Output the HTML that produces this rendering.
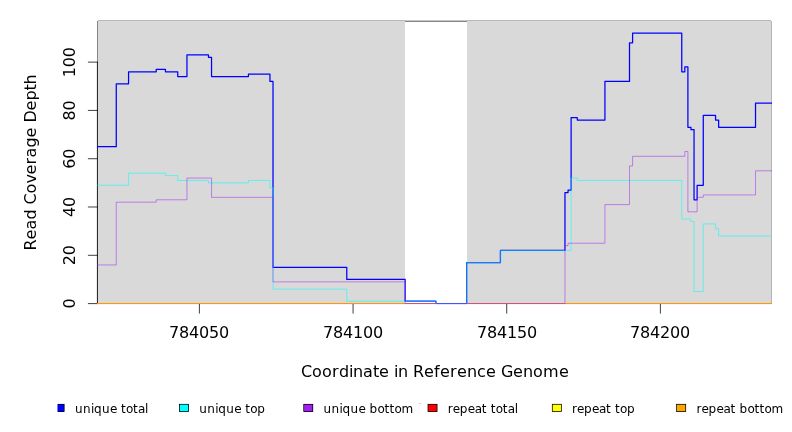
<!DOCTYPE html>
<html><head><meta charset="utf-8"><title>Read Coverage Depth</title>
<style>html,body{margin:0;padding:0;background:#fff;width:792px;height:432px;overflow:hidden}</style>
</head><body>
<svg width="792" height="432" viewBox="0 0 792 432" style="display:block;position:absolute;left:0;top:0">
<rect x="0" y="0" width="792" height="432" fill="#ffffff"/>
<g shape-rendering="crispEdges">
<rect x="98" y="21" width="307" height="283" fill="#d9d9d9"/>
<rect x="467" y="21" width="304" height="283" fill="#d9d9d9"/>
<rect x="98" y="20" width="307" height="1" fill="#b8b8b8"/>
<rect x="467" y="20" width="304" height="1" fill="#b8b8b8"/>
<rect x="405" y="20" width="62" height="1" fill="#c6c6c6"/>
<rect x="405" y="21" width="62" height="1" fill="#858585"/>
<rect x="97" y="21" width="1" height="283" fill="#858585"/>
<rect x="771" y="21" width="1" height="283" fill="#b5b5b5"/>
</g>
<rect x="97" y="304" width="675" height="1" fill="#fff0f2" shape-rendering="crispEdges"/>
<rect x="436" y="304" width="31" height="1" fill="#e8e2ff" shape-rendering="crispEdges"/>
<g stroke="#000" stroke-width="0.75" fill="none" stroke-linecap="round">
<path d="M97.40 303.60V62.13"/>
<path d="M97.40 303.60H88.30"/>
<path d="M97.40 255.31H88.30"/>
<path d="M97.40 207.01H88.30"/>
<path d="M97.40 158.72H88.30"/>
<path d="M97.40 110.42H88.30"/>
<path d="M97.40 62.13H88.30"/>
<path d="M199.40 303.60V313.20"/>
<path d="M353.07 303.60V313.20"/>
<path d="M506.73 303.60V313.20"/>
<path d="M660.39 303.60V313.20"/>
</g>
<clipPath id="c"><rect x="97" y="20" width="675" height="284"/></clipPath>
<g clip-path="url(#c)" fill="none" stroke-linejoin="round" stroke-linecap="round">
<path d="M97.40 303.60H771.60" stroke="#ff0000" stroke-width="0.75"/>
<path d="M97.40 303.60H771.60" stroke="#ffff00" stroke-width="0.75"/>
<rect x="97" y="303" width="675" height="1" fill="#ff9800" stroke="none" shape-rendering="crispEdges"/>
<path d="M97.40 146.64H116.27V83.86H128.56V71.79H156.22V69.37H165.44V71.79H177.74V76.62H186.96V54.89H208.47V57.30H211.54V76.62H248.42V74.20H269.94V81.45H273.01V267.38H346.77V279.45H405.16V301.19H435.89V303.60H466.63V262.55H500.43V250.48H564.97V192.52H568.05V190.11H571.12V117.67H577.27V120.08H604.93V81.45H629.51V42.81H632.59V33.15H681.76V71.79H684.83V66.96H687.90V127.33H690.98V129.74H694.05V199.77H697.12V185.28H703.27V115.25H715.56V120.08H718.64V127.33H755.52V103.18H771.60" stroke="#0000ff" stroke-width="1.25"/>
<path d="M97.40 185.28H128.56V173.21H165.44V175.62H177.74V180.45H208.47V182.87H248.42V180.45H269.94V187.69H273.01V289.11H346.77V301.19H435.89V303.60H466.63V262.55H500.43V250.48H571.12V178.04H577.27V180.45H681.76V219.09H690.98V221.50H694.05V291.53H703.27V223.91H715.56V228.74H718.64V235.99H771.60" stroke="#00ffff" stroke-width="0.55"/>
<path d="M97.40 264.96H116.27V202.18H156.22V199.77H186.96V178.04H211.54V197.35H273.01V281.87H405.16V303.60H564.97V245.65H568.05V243.23H604.93V204.60H629.51V165.96H632.59V156.30H684.83V151.47H687.90V211.84H697.12V197.35H703.27V194.94H755.52V170.79H771.60" stroke="#a020f0" stroke-width="0.5"/>
<g shape-rendering="crispEdges" stroke="none">
<rect x="405" y="303" width="31" height="1" fill="#ce547e"/>
<rect x="467" y="303" width="98" height="1" fill="#ce547e"/>
</g>
</g>
<g font-family="'DejaVu Sans', 'Liberation Sans', sans-serif" fill="#000">
<g font-size="16px">
<text x="169.00 179.00 189.00 199.00 209.00 219.00" y="337.80">784050</text>
<text x="323.00 333.00 343.00 353.00 363.00 373.00" y="337.80">784100</text>
<text x="477.00 487.00 497.00 507.00 517.00 527.00" y="337.80">784150</text>
<text x="630.00 640.00 650.00 660.00 670.00 680.00" y="337.80">784200</text>
<text transform="translate(75.20 303.60) rotate(-90)" x="-5.00" y="0">0</text>
<text transform="translate(75.20 255.31) rotate(-90)" x="-10.00 0.00" y="0">20</text>
<text transform="translate(75.20 207.01) rotate(-90)" x="-10.00 0.00" y="0">40</text>
<text transform="translate(75.20 158.72) rotate(-90)" x="-10.00 0.00" y="0">60</text>
<text transform="translate(75.20 110.42) rotate(-90)" x="-10.00 0.00" y="0">80</text>
<text transform="translate(75.20 62.13) rotate(-90)" x="-15.00 -5.00 5.00" y="0">100</text>
<text x="301.00 312.00 322.00 332.00 339.00 349.00 353.00 363.00 373.00 379.00 389.00 394.00 398.00 408.00 413.00 424.00 434.00 440.00 450.00 457.00 467.00 477.00 486.00 496.00 501.00 513.00 523.00 533.00 543.00 559.00" y="376.8">Coordinate in Reference Genome</text>
<text transform="translate(35.6 162.4) rotate(-90)" x="-88.00 -77.00 -67.00 -57.00 -47.00 -42.00 -31.00 -21.00 -12.00 -2.00 5.00 15.00 25.00 35.00 40.00 52.00 62.00 72.00 78.00" y="0">Read Coverage Depth</text>
</g>
<g font-size="12px">
<rect x="57" y="404" width="1" height="8" fill="#7a7aff" shape-rendering="crispEdges"/>
<clipPath id="lc"><rect x="58" y="400" width="20" height="20"/></clipPath>
<g clip-path="url(#lc)">
<rect x="55" y="404" width="9" height="8" fill="#0000ff" shape-rendering="crispEdges"/>
<rect x="55.10" y="404.30" width="9.10" height="7.20" fill="none" stroke="#000" stroke-width="0.75"/>
</g>
<text x="74.90 82.90 90.90 93.90 101.90 109.90 116.90 120.90 125.90 132.90 137.90 144.90" y="412.7">unique total</text>
<rect x="179" y="404" width="10" height="8" fill="#00ffff" shape-rendering="crispEdges"/>
<rect x="179.40" y="404.30" width="9.10" height="7.20" fill="none" stroke="#000" stroke-width="0.75"/>
<text x="199.20 207.20 215.20 218.20 226.20 234.20 241.20 245.20 250.20 257.20" y="412.7">unique top</text>
<rect x="304" y="404" width="9" height="8" fill="#a020f0" shape-rendering="crispEdges"/>
<rect x="303.70" y="404.30" width="9.10" height="7.20" fill="none" stroke="#000" stroke-width="0.75"/>
<text x="323.50 331.50 339.50 342.50 350.50 358.50 365.50 369.50 377.50 384.50 389.50 394.50 401.50" y="412.7">unique bottom</text>
<rect x="428" y="404" width="9" height="8" fill="#ff0000" shape-rendering="crispEdges"/>
<rect x="428.00" y="404.30" width="9.10" height="7.20" fill="none" stroke="#000" stroke-width="0.75"/>
<text x="447.80 452.80 459.80 467.80 474.80 481.80 486.80 490.80 495.80 502.80 507.80 514.80" y="412.7">repeat total</text>
<rect x="552" y="404" width="9" height="8" fill="#ffff00" shape-rendering="crispEdges"/>
<rect x="552.30" y="404.30" width="9.10" height="7.20" fill="none" stroke="#000" stroke-width="0.75"/>
<text x="572.10 577.10 584.10 592.10 599.10 606.10 611.10 615.10 620.10 627.10" y="412.7">repeat top</text>
<rect x="677" y="404" width="9" height="8" fill="#ffa500" shape-rendering="crispEdges"/>
<rect x="676.60" y="404.30" width="9.10" height="7.20" fill="none" stroke="#000" stroke-width="0.75"/>
<text x="696.40 701.40 708.40 716.40 723.40 730.40 735.40 739.40 747.40 754.40 759.40 764.40 771.40" y="412.7">repeat bottom</text>
<rect x="419" y="403" width="2" height="1" fill="#d2d2d2" shape-rendering="crispEdges"/>
</g>
</g>
</svg>
</body></html>
